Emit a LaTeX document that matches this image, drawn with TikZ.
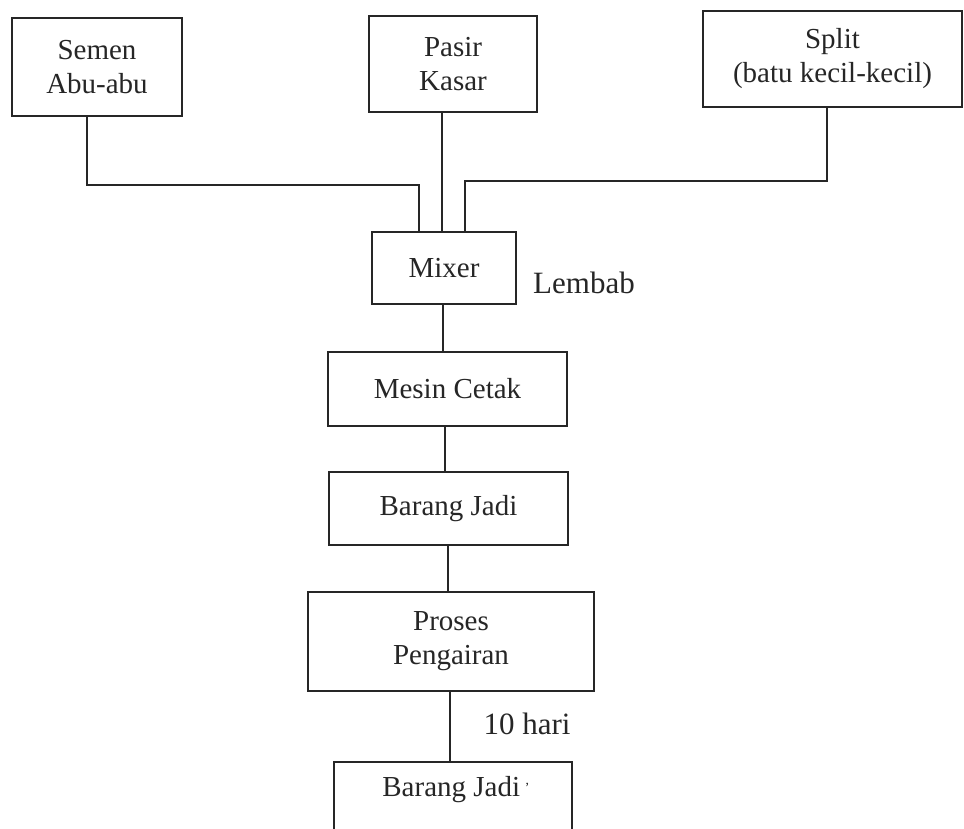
\documentclass[tikz,border=0pt]{standalone}
\usepackage{fontspec}
\setmainfont{Liberation Serif}
\begin{document}
\begin{tikzpicture}[x=0.5pt,y=-0.5pt,
  box/.style={draw=ink, line width=1pt, inner sep=0pt, align=center,
    font=\fontsize{14.5pt}{17pt}\selectfont, text=ink},
  lbl/.style={inner sep=0pt, font=\fontsize{15.5pt}{18pt}\selectfont, text=ink},
  conn/.style={draw=ink, line width=1pt}]
\definecolor{ink}{HTML}{262626}
\useasboundingbox (0,0) rectangle (964,829);
\clip (0,0) rectangle (964,829);
% boxes
\node[box, minimum width=85pt, minimum height=49pt] (semen) at (97,67) {Semen\\Abu-abu};
\node[box, minimum width=84pt, minimum height=48pt] (pasir) at (453,64) {Pasir\\Kasar};
\node[box, minimum width=129.5pt, minimum height=48pt] (split) at (832.5,59) {Split\\(batu kecil-kecil)};
\node[box, minimum width=72pt, minimum height=36pt] (mixer) at (444,268) {Mixer};
\node[lbl] (lembab) at (584,283) {Lembab};
\node[box, minimum width=119.5pt, minimum height=37pt] (mesin) at (447.5,389) {Mesin Cetak};
\node[box, minimum width=119.5pt, minimum height=36.5pt] (jadi1) at (448.5,508.5) {Barang Jadi};
\node[box, minimum width=143pt, minimum height=49.5pt] (proses) at (451,641.5) {Proses\\Pengairan};
\node[lbl] (hari) at (527,724) {10 hari};
\node[box, minimum width=119pt, minimum height=45pt, anchor=north] (jadi2) at (453,761) {};
\node[box, draw=none] (jadi2t) at (456,790) {Barang Jadi\,\raisebox{2pt}{\scriptsize'}};
% bend points
\coordinate (s1) at (87,185);
\coordinate (s2) at (419,185);
\coordinate (p1) at (442,0);
\coordinate (t1) at (827,181);
\coordinate (t2) at (465,181);
\coordinate (m1) at (443,0);
\coordinate (m2) at (445,0);
\coordinate (m3) at (448,0);
\coordinate (m4) at (450,0);
% connectors
\draw[conn] (semen.south -| s1) -- (s1) -- (s2) -- (s2 |- mixer.north);
\draw[conn] (pasir.south -| p1) -- (p1 |- mixer.north);
\draw[conn] (split.south -| t1) -- (t1) -- (t2) -- (t2 |- mixer.north);
\draw[conn] (mixer.south -| m1) -- (m1 |- mesin.north);
\draw[conn] (mesin.south -| m2) -- (m2 |- jadi1.north);
\draw[conn] (jadi1.south -| m3) -- (m3 |- proses.north);
\draw[conn] (proses.south -| m4) -- (m4 |- jadi2.north);
\end{tikzpicture}
\end{document}
